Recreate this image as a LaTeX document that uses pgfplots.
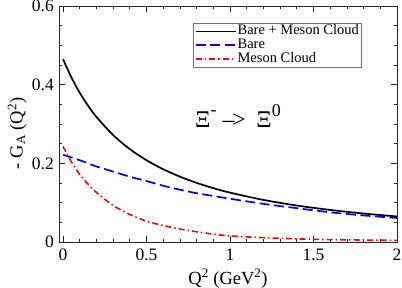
\documentclass[border=0pt]{standalone}
\usepackage{pgfplots}
\pgfplotsset{compat=1.18}
\usepackage{fontspec}
\setmainfont{Liberation Serif}
\begin{document}
\begin{tikzpicture}
\path[use as bounding box] (-59pt,-46pt) rectangle (343pt,242pt);
\begin{axis}[
  at={(0pt,0pt)}, anchor=south west,
  scale only axis, width=338pt, height=236pt,
  xmin=-0.024, xmax=2, ymin=0, ymax=0.6,
  xtick={0,0.5,1,1.5,2}, xticklabels={0,0.5,1,1.5,2},
  ytick={0,0.2,0.4,0.6}, yticklabels={0,0.2,0.4,0.6},
  minor x tick num=4, minor y tick num=3,
  tick align=inside, major tick length=6pt, minor tick length=3pt,
  axis line style={line width=0.8pt, black!85},
  every tick/.style={line width=0.7pt, black!85},
  /pgf/number format/assume math mode=true,
  tick label style={font=\fontsize{17.5}{20}\selectfont},
  xticklabel style={anchor=base, inner sep=0pt, yshift=-18.7pt},
  yticklabel style={anchor=east, inner sep=0pt, xshift=-5pt},
  clip=false,
  legend style={at={(0.396,0.928)}, anchor=north west, draw=black!55, line width=0.5pt,
    font=\fontsize{14.5}{14.5}\selectfont, inner xsep=2pt, inner ysep=1.2pt,
    row sep=0pt,
    nodes={inner sep=0.8pt, text height=9.5pt, text depth=2.8pt}},
  legend cell align=left,
  legend image code/.code={\draw[#1] (0pt,0pt) -- (40pt,0pt);},
]
\addplot[black, line width=1.7pt, smooth] coordinates {
(0,0.465) (0.05,0.4186) (0.1,0.3796) (0.15,0.3465) (0.2,0.318) (0.3,0.2719)
(0.4,0.2362) (0.5,0.2079) (0.6,0.185) (0.7,0.1661) (0.8,0.1503) (0.9,0.1369)
(1.0,0.1255) (1.2,0.107) (1.4,0.0927) (1.6,0.0815) (1.8,0.0724) (2.0,0.0649)};
\addlegendentry{Bare + Meson Cloud}
\addplot[blue, line width=1.7pt, smooth, dash pattern=on 10pt off 4.5pt] coordinates {
(0,0.222) (0.05,0.215) (0.1,0.208) (0.15,0.200) (0.2,0.192) (0.3,0.179)
(0.4,0.166) (0.5,0.155) (0.6,0.143) (0.7,0.133) (0.8,0.124) (0.9,0.117)
(1.0,0.110) (1.2,0.097) (1.4,0.086) (1.6,0.0755) (1.8,0.0675) (2.0,0.061)};
\addlegendentry{Bare}
\addplot[red, line width=1.6pt, smooth, dash pattern=on 6pt off 3pt on 1.5pt off 3pt] coordinates {
(0,0.243) (0.05,0.204) (0.1,0.172) (0.15,0.147) (0.2,0.126) (0.3,0.093)
(0.4,0.070) (0.5,0.053) (0.6,0.042) (0.7,0.033) (0.8,0.026) (0.9,0.020)
(1.0,0.0155) (1.2,0.011) (1.4,0.008) (1.6,0.006) (1.8,0.005) (2.0,0.004)};
\addlegendentry{Meson Cloud}
\node[anchor=base west, inner sep=0pt, font=\fontsize{24}{26}\selectfont] at (axis cs:0.79,0.292)
  {Ξ\raisebox{0.5em}{\fontsize{18}{18}\selectfont -}\hspace{0.25em}–\kern-0.1em>\hspace{0.45em}Ξ\raisebox{0.45em}{\fontsize{18}{18}\selectfont 0}};
\node[anchor=base, inner sep=0pt, font=\fontsize{18.5}{20}\selectfont] at (axis description cs:0.5,-0.178)
  {Q\textsuperscript{2} (GeV\textsuperscript{2})};
\node[anchor=center, rotate=90, inner sep=0pt, font=\fontsize{18.5}{20}\selectfont] at (axis description cs:-0.124,0.46)
  {- G\textsubscript{A} (Q\textsuperscript{2})};
\end{axis}
\end{tikzpicture}
\end{document}
